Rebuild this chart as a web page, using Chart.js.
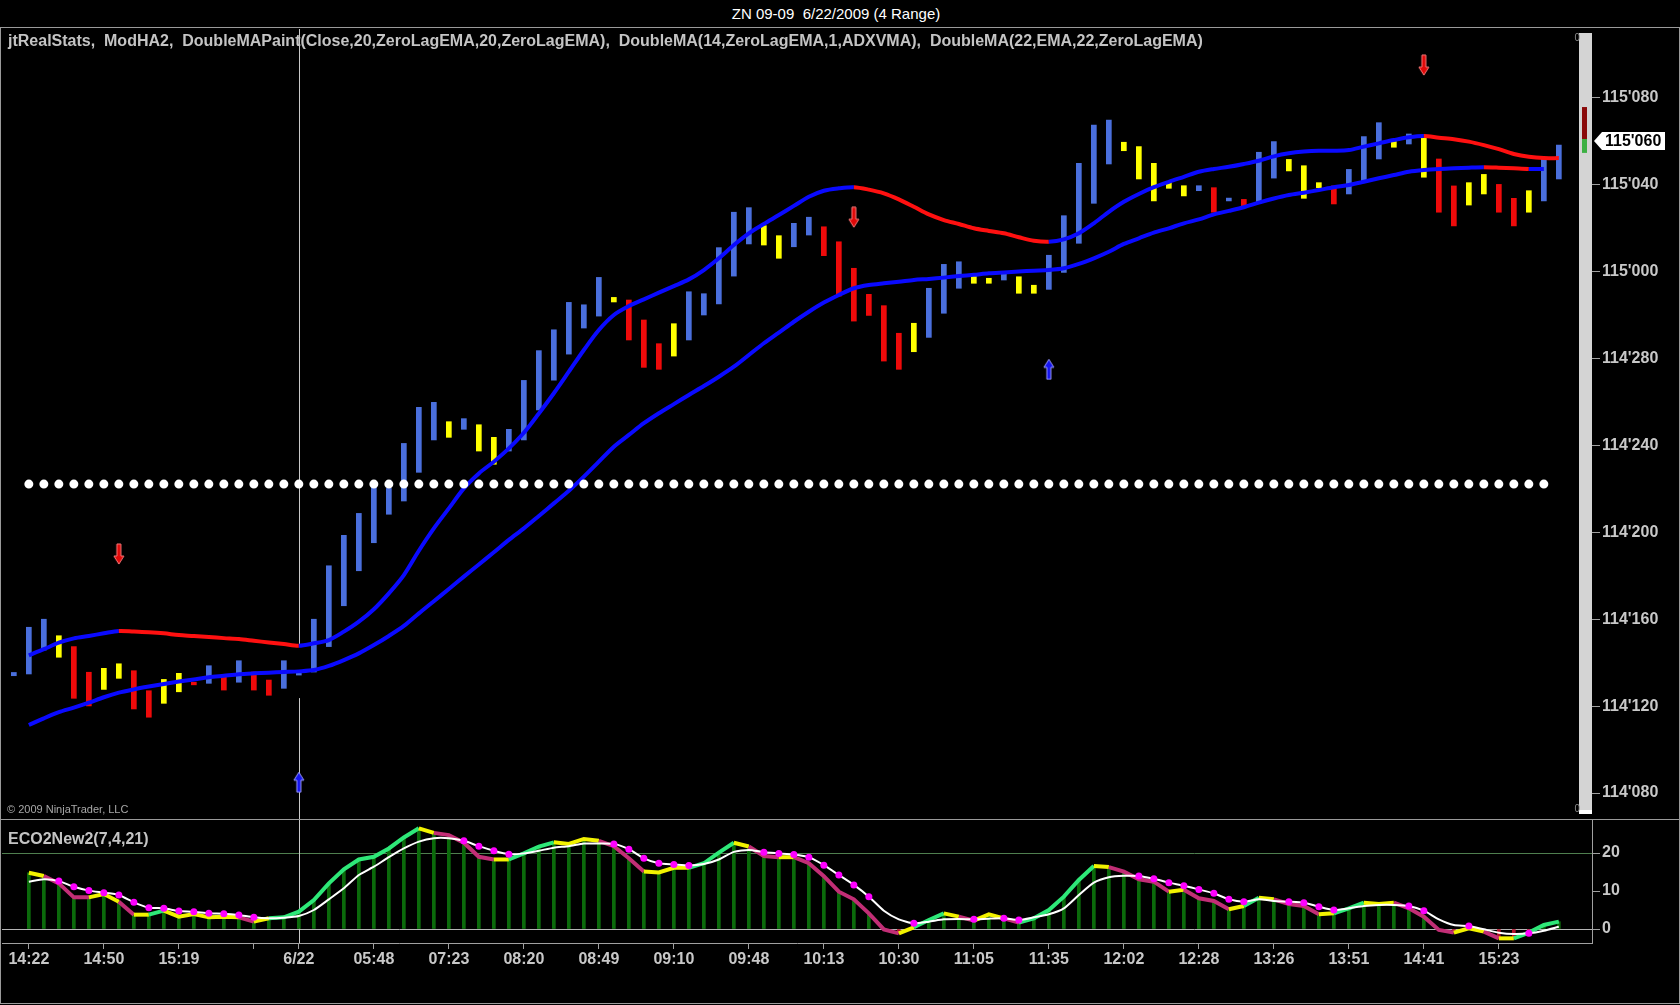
<!DOCTYPE html>
<html>
<head>
<meta charset="utf-8">
<script src="https://cdn.jsdelivr.net/npm/chart.js@4.4.1/dist/chart.umd.min.js"></script>
<style>
html, body { margin: 0; background: #000; width: 1680px; height: 1005px; overflow: hidden; font-family: "Liberation Sans", Arial, sans-serif; }
.abs { position: absolute; }
.rule { background: #9a9a9a; }
.txt { white-space: pre; z-index: 5; }
#title { left: 0; width: 1672px; top: 5px; text-align: center; color: #fff; font-size: 15px; }
.legend { color: #c4c4c4; font-size: 16px; font-weight: bold; }
#copy { left: 7px; top: 803px; color: #a8a8a8; font-size: 11px; }
</style>
</head>
<body>
<div id="title" class="abs txt">ZN 09-09  6/22/2009 (4 Range)</div>
<div class="abs rule" style="left:0;top:27px;width:1680px;height:1px"></div>
<div class="abs rule" style="left:0;top:27px;width:1px;height:977px"></div>
<div class="abs rule" style="left:1679px;top:27px;width:1px;height:977px"></div>
<div class="abs rule" style="left:0;top:1003px;width:1680px;height:1px"></div>
<div class="abs rule" style="left:0;top:819px;width:1680px;height:1px"></div>
<canvas id="main" class="abs" width="1680" height="791" style="left:0;top:28px"></canvas>
<canvas id="eco" class="abs" width="1680" height="183" style="left:0;top:820px"></canvas>
<div class="abs txt legend" style="left:8px;top:32px">jtRealStats,  ModHA2,  DoubleMAPaint(Close,20,ZeroLagEMA,20,ZeroLagEMA),  DoubleMA(14,ZeroLagEMA,1,ADXVMA),  DoubleMA(22,EMA,22,ZeroLagEMA)</div>
<div id="copy" class="abs txt">© 2009 NinjaTrader, LLC</div>
<div class="abs txt legend" style="left:8px;top:830px">ECO2New2(7,4,21)</div>
<script>
const $ = (id) => document.getElementById(id);

// price axis counts 32nds above 114'000
const BASE = 114;
const firstBar = -1;

const barLo = [
  13.40,
  13.48, 14.58, 14.25, 12.36, 12.01, 12.77, 13.28, 11.87, 11.49, 12.13,
  12.66, 12.98, 13.05, 12.74, 13.10, 12.74, 12.50, 12.82, 13.43, 13.57,
  14.74, 16.62, 18.23, 19.52, 20.83, 21.44, 22.76, 24.25, 24.37, 24.74,
  23.74, 23.13, 23.74, 24.25, 25.63, 27.00, 28.20, 29.40, 29.95, 30.60,
  28.85, 27.59, 27.50, 28.11, 28.85, 30.00, 30.51, 31.79, 33.27, 33.22,
  32.61, 33.14, 33.68, 32.73, 30.87, 29.72, 29.98, 27.88, 27.50, 28.31,
  28.97, 30.08, 31.23, 31.46, 31.46, 31.61, 31.00, 31.00, 31.18, 31.96,
  33.30, 35.14, 36.95, 37.56, 36.26, 35.25, 35.83, 35.48, 35.72, 34.73,
  35.25, 34.96, 35.14, 36.30, 36.63, 35.37, 35.86, 35.11, 35.57, 36.17,
  37.18, 37.72, 37.87, 36.34, 34.73, 34.10, 35.06, 35.57, 34.73, 34.10,
  34.73, 35.25, 36.26
];
const barHi = [
  13.55,
  15.63, 16.00, 15.24, 14.74, 13.56, 13.74, 13.95, 13.63, 12.71, 13.23,
  13.51, 13.10, 13.86, 13.45, 14.09, 13.57, 13.20, 14.09, 13.57, 16.00,
  18.46, 19.86, 20.87, 22.13, 22.02, 24.09, 25.75, 25.98, 25.09, 25.23,
  24.95, 24.37, 24.74, 26.99, 28.36, 29.32, 30.58, 30.47, 31.73, 30.81,
  30.69, 29.77, 28.68, 29.60, 31.07, 30.98, 33.10, 34.73, 34.94, 34.11,
  33.65, 34.22, 34.50, 34.06, 33.37, 32.15, 30.95, 30.43, 29.16, 29.62,
  31.23, 32.33, 32.45, 31.87, 31.69, 31.96, 31.76, 31.37, 32.75, 34.57,
  36.98, 38.74, 38.97, 37.95, 37.75, 36.98, 36.11, 35.95, 35.95, 35.86,
  35.38, 35.32, 37.49, 37.98, 37.16, 36.87, 36.09, 35.94, 36.70, 38.21,
  38.85, 37.98, 38.33, 38.13, 37.18, 35.94, 36.09, 36.47, 36.01, 35.37,
  35.72, 37.18, 37.82
];
// U = up, D = down, N = neutral
const barState = ('UUUNDDNNDDNNDUDUDDUU UUUUUUUUU NUNN UUUUUUU NDDDN UUUUU NNUU DDDDDD N UUU ' +
  'NNUNN UUUUU NNNNN UDUD UU NNN D UUU NUN DD NN DD N UU').replace(/ /g, '').split('');

const upperMA = [
  14.34, 14.62, 14.92, 15.12, 15.23, 15.35, 15.46, 15.43, 15.40, 15.35,
  15.27, 15.23, 15.18, 15.13, 15.09, 15.01, 14.93, 14.86, 14.78, 14.89,
  15.04, 15.43, 15.89, 16.46, 17.19, 18.03, 19.15, 20.18, 21.10, 22.02,
  22.71, 23.25, 23.86, 24.58, 25.47, 26.40, 27.39, 28.39, 29.31, 30.00,
  30.41, 30.72, 31.03, 31.33, 31.64, 32.07, 32.61, 33.22, 33.76, 34.19,
  34.60, 35.02, 35.44, 35.72, 35.83, 35.88, 35.77, 35.60, 35.32, 34.98,
  34.63, 34.37, 34.19, 33.99, 33.87, 33.76, 33.58, 33.42, 33.37, 33.48,
  33.76, 34.22, 34.75, 35.21, 35.57, 35.88, 36.13, 36.36, 36.59, 36.72,
  36.82, 36.95, 37.10, 37.30, 37.44, 37.52, 37.56, 37.56, 37.59, 37.75,
  37.90, 38.05, 38.18, 38.24, 38.16, 38.09, 37.98, 37.82, 37.63, 37.41,
  37.28, 37.22, 37.22
];
const upperRed = [[6, 18], [55, 68], [93, 102]];

const lowerMA = [
  11.13, 11.44, 11.72, 11.93, 12.16, 12.41, 12.62, 12.77, 12.90, 13.02,
  13.13, 13.23, 13.33, 13.40, 13.47, 13.51, 13.54, 13.57, 13.60, 13.66,
  13.85, 14.12, 14.43, 14.81, 15.23, 15.69, 16.27, 16.83, 17.39, 17.96,
  18.52, 19.08, 19.65, 20.18, 20.75, 21.33, 21.91, 22.56, 23.25, 23.94,
  24.48, 25.02, 25.48, 25.90, 26.32, 26.73, 27.16, 27.62, 28.16, 28.70,
  29.19, 29.69, 30.15, 30.57, 30.92, 31.23, 31.38, 31.46, 31.53, 31.61,
  31.66, 31.72, 31.79, 31.85, 31.92, 31.96, 32.00, 32.04, 32.07, 32.15,
  32.35, 32.61, 32.91, 33.27, 33.53, 33.79, 33.99, 34.22, 34.40, 34.63,
  34.79, 34.96, 35.17, 35.36, 35.52, 35.63, 35.75, 35.88, 35.98, 36.13,
  36.29, 36.44, 36.59, 36.67, 36.72, 36.75, 36.78, 36.80, 36.78, 36.75,
  36.72, 36.72
];
const lowerRed = [[97, 100]];

const levelPrice = 22.22;
const levelSpan = [0, 101.05];

const sellIdx = [6, 55, 93];
const sellAt = [19.0, 34.5, 41.5];
const buyIdx = [18, 68];
const buyAt = [8.5, 27.5];

const lastPrice = 38;
const meterRed = [38.10, 39.57];
const meterGreen = [37.46, 38.10];

const priceTicks = [8, 12, 16, 20, 24, 28, 32, 36, 40];

const ecoMain = [
  14.8, 13.95, 12.0, 8.33, 8.33, 9.21, 7.19, 3.77, 3.77, 4.82,
  3.25, 3.95, 3.07, 3.25, 3.07, 1.93, 2.81, 3.07, 4.56, 7.63,
  12.0, 15.7, 18.3, 19.0, 21.2, 24.1, 26.5, 25.3, 24.7, 22.7,
  19.0, 18.3, 18.3, 19.9, 21.7, 22.8, 22.4, 23.7, 23.2, 21.8,
  18.6, 15.1, 14.9, 16.1, 16.1, 17.3, 20.1, 22.7, 21.7, 19.2,
  18.9, 18.9, 17.3, 13.9, 9.82, 7.81, 4.12, -0.1, -1.14, 0.44,
  2.37, 4.12, 3.25, 2.19, 3.86, 2.81, 1.67, 2.81, 5.0, 8.51,
  12.9, 16.6, 16.3, 15.1, 13.07, 12.45, 9.82, 10.3, 8.07, 7.37,
  5.18, 6.05, 8.25, 7.81, 6.58, 6.05, 3.86, 4.12, 5.44, 6.93,
  6.58, 6.93, 5.44, 3.25, -0.26, -0.96, 0.18, -0.7, -2.46, -2.46,
  -0.96, 1.05, 1.93
];
const ecoSignal = [
  12.45, 13.07, 12.6, 11.1, 10.1, 9.56, 8.95, 7.02, 5.61, 5.44,
  4.74, 4.56, 4.12, 4.04, 3.68, 3.07, 2.81, 2.98, 3.42, 5.0,
  7.81, 10.7, 14.2, 16.4, 18.9, 21.2, 23.0, 23.9, 23.9, 23.2,
  21.8, 20.6, 19.7, 19.9, 20.6, 21.4, 21.8, 22.5, 22.5, 22.4,
  21.0, 18.6, 17.3, 17.0, 16.7, 17.1, 18.3, 20.3, 20.8, 20.2,
  19.9, 19.6, 18.9, 16.8, 14.2, 11.6, 8.51, 4.82, 2.54, 1.49,
  1.93, 2.54, 2.63, 2.54, 2.72, 2.81, 2.37, 3.07, 3.86, 5.44,
  8.95, 12.2, 13.6, 14.0, 13.95, 13.2, 12.2, 11.4, 10.4, 9.39,
  7.81, 7.19, 7.81, 7.37, 7.19, 6.93, 5.88, 5.0, 5.44, 6.05,
  6.32, 6.32, 6.05, 4.82, 2.54, 1.05, 0.79, -0.09, -0.96, -1.32,
  -1.14, -0.44, 0.61
];
// G = rising, Y = turning, M = falling (colour of the segment ending at each bar)
const ecoState = ('YYMMMYYMYGYYYYYMYGG GGGGGGGG YMMMM YGGG YYY MMM YYY GGG YMMY MMMMMMM ' +
  'YGGYMYYM GGGGG Y MMMM Y MMM YGY MMM YGGYY MMMM YYMY GGG').replace(/ /g, '').split('');
const ecoDots = [2, 3, 4, 5, 6, 7, 8, 9, 10, 11, 12, 13, 14, 15, 29, 30, 31, 32,
  39, 40, 41, 42, 43, 44, 49, 50, 51, 52, 53, 54, 55, 56, 59, 63, 65, 66,
  74, 75, 76, 77, 78, 79, 80, 81, 84, 85, 86, 87, 92, 93, 96, 100];
const ecoTicks = [0, 10, 20];

const timeIdx = [0, 5, 10, 15, 18, 23, 28, 33, 38, 43, 48, 53, 58, 63, 68, 73, 78, 83, 88, 93, 98];
const timeLabels = ['14:22', '14:50', '15:19', '', '6/22', '05:48', '07:23', '08:20', '08:49', '09:10',
  '09:48', '10:13', '10:30', '11:05', '11:35', '12:02', '12:28', '13:26', '13:51', '14:41', '15:23'];
const cursorIdx = 18;
const cursorGap = [12.37, 14.72];

const X_MIN = -1.79, X_MAX = 104.21;
const COLORS = {
  up: '#4a6fdc', down: '#ee0a0a', flat: '#ffff00',
  ma: '#0a0aff', maRed: '#ff1010',
  grey: '#a0a0a0', label: '#c8c8c8',
  green: '#2ee878', yellow: '#f2f200', pink: '#c22e76',
  hist: '#0b6a0b', histNeg: '#b0102a'
};
const FONT = { family: '"Liberation Sans", Arial, sans-serif', size: 16, weight: 'bold' };

Chart.defaults.font.family = FONT.family;
Chart.defaults.animation = false;

const fmtPrice = (v) => {
  const w = Math.floor(v / 32);
  const frac = Math.round((v - 32 * w) * 10);
  return `${BASE + w}'${String(frac).padStart(3, '0')}`;
};
const inRuns = (runs, a, b) => runs.some(([s, e]) => a >= s && b <= e);
// keep the plot area exactly where the layout puts it (no room reserved for edge labels)
const noPad = (s) => { s.paddingTop = 0; s.paddingBottom = 0; s.paddingLeft = 0; s.paddingRight = 0; };

function makeArrow(up, fill, edge) {
  const c = document.createElement('canvas');
  c.width = 12; c.height = 22;
  const g = c.getContext('2d');
  if (up) { g.translate(0, 22); g.scale(1, -1); }
  g.beginPath();
  g.moveTo(4, 1); g.lineTo(8, 1); g.lineTo(8, 13); g.lineTo(11, 13);
  g.lineTo(6, 21); g.lineTo(1, 13); g.lineTo(4, 13); g.closePath();
  g.fillStyle = fill; g.fill();
  g.strokeStyle = edge; g.lineWidth = 1; g.stroke();
  return c;
}

const bars = barLo.map((lo, k) => ({ x: firstBar + k, y: [lo, barHi[k]] }));
const barColor = { U: COLORS.up, D: COLORS.down, N: COLORS.flat };

const mainDeco = {
  id: 'mainDeco',
  beforeDatasetsDraw(chart) {
    const { ctx, chartArea: a, scales: { x, y } } = chart;
    ctx.save();
    ctx.fillStyle = '#d4d4d4';
    ctx.fillRect(a.right - 13, a.top + 4, 13, a.bottom - a.top - 13);
    ctx.fillStyle = '#ffffff';
    ctx.fillRect(a.right - 13, a.bottom - 9, 13, 4);
    ctx.fillStyle = '#8a0a0a';
    ctx.fillRect(a.right - 10, y.getPixelForValue(meterRed[1]), 5, y.getPixelForValue(meterRed[0]) - y.getPixelForValue(meterRed[1]));
    ctx.fillStyle = '#3cb043';
    ctx.fillRect(a.right - 10, y.getPixelForValue(meterGreen[1]), 5, y.getPixelForValue(meterGreen[0]) - y.getPixelForValue(meterGreen[1]));
    ctx.fillStyle = '#8c8c8c';
    ctx.font = '10px ' + FONT.family;
    ctx.textAlign = 'right';
    ctx.textBaseline = 'middle';
    ctx.fillText('0', a.right - 12, a.top + 9);
    ctx.fillText('0', a.right - 12, a.bottom - 10);
    const cx = Math.round(x.getPixelForValue(cursorIdx)) + 0.5;
    ctx.strokeStyle = '#c8c8c8';
    ctx.lineWidth = 1;
    ctx.beginPath();
    ctx.moveTo(cx, a.top);
    ctx.lineTo(cx, y.getPixelForValue(cursorGap[1]));
    ctx.moveTo(cx, y.getPixelForValue(cursorGap[0]));
    ctx.lineTo(cx, a.bottom);
    ctx.stroke();
    ctx.restore();
  },
  afterDraw(chart) {
    const { ctx, chartArea: a, scales: { y } } = chart;
    const py = Math.round(y.getPixelForValue(lastPrice));
    ctx.save();
    ctx.fillStyle = '#ffffff';
    ctx.beginPath();
    ctx.moveTo(a.right + 2, py);
    ctx.lineTo(a.right + 10, py - 9);
    ctx.lineTo(a.right + 73, py - 9);
    ctx.lineTo(a.right + 73, py + 9);
    ctx.lineTo(a.right + 10, py + 9);
    ctx.closePath();
    ctx.fill();
    ctx.fillStyle = '#000';
    ctx.font = `bold 16px ${FONT.family}`;
    ctx.textBaseline = 'middle';
    ctx.fillText(fmtPrice(lastPrice), a.right + 13, py + 1);
    ctx.restore();
  }
};

new Chart($('main'), {
  type: 'bar',
  data: {
    datasets: [
      {
        type: 'scatter', label: 'Sell', order: 0,
        data: sellIdx.map((i, k) => ({ x: i, y: sellAt[k] })),
        pointStyle: makeArrow(false, '#e00808', '#ff7a7a')
      },
      {
        type: 'scatter', label: 'Buy', order: 0,
        data: buyIdx.map((i, k) => ({ x: i, y: buyAt[k] })),
        pointStyle: makeArrow(true, '#1414f0', '#9a9aff')
      },
      {
        type: 'line', label: 'Level', order: 1,
        data: levelSpan.map(x => ({ x, y: levelPrice })),
        borderColor: '#ffffff', borderWidth: 9, borderDash: [0, 15], borderCapStyle: 'round',
        pointRadius: 0
      },
      {
        type: 'line', label: 'DoubleMAPaint', order: 2,
        data: upperMA.map((v, i) => ({ x: i, y: v })),
        borderWidth: 4, pointRadius: 0, tension: 0.3, borderColor: COLORS.ma,
        segment: { borderColor: c => inRuns(upperRed, c.p0DataIndex, c.p1DataIndex) ? COLORS.maRed : COLORS.ma }
      },
      {
        type: 'line', label: 'DoubleMA', order: 2,
        data: lowerMA.map((v, i) => ({ x: i, y: v })),
        borderWidth: 4, pointRadius: 0, tension: 0.3, borderColor: COLORS.ma,
        segment: { borderColor: c => inRuns(lowerRed, c.p0DataIndex, c.p1DataIndex) ? COLORS.maRed : COLORS.ma }
      },
      {
        type: 'bar', label: 'ModHA2', order: 3, grouped: false,
        data: bars, barThickness: 5, borderWidth: 0, borderSkipped: false,
        backgroundColor: c => barColor[barState[c.dataIndex]]
      }
    ]
  },
  options: {
    responsive: false,
    devicePixelRatio: 1,
    layout: { autoPadding: false, padding: { left: 2, top: 1, right: 0, bottom: 0 } },
    plugins: { legend: { display: false }, tooltip: { enabled: false } },
    scales: {
      x: { type: 'linear', min: X_MIN, max: X_MAX, offset: false, display: false, afterFit: noPad },
      y: {
        position: 'right',
        min: 40 - (819 - 97.7) / 21.73,
        max: 40 + (97.7 - 29) / 21.73,
        afterFit: s => { s.width = 88; noPad(s); },
        afterBuildTicks: s => { s.ticks = priceTicks.map(value => ({ value })); },
        border: { display: false },
        grid: { drawOnChartArea: false, drawTicks: true, tickLength: 8, tickColor: COLORS.grey },
        ticks: { color: COLORS.label, font: FONT, padding: 2, callback: v => fmtPrice(v) }
      }
    }
  },
  plugins: [mainDeco]
});

const ecoDeco = {
  id: 'ecoDeco',
  beforeDatasetsDraw(chart) {
    const { ctx, chartArea: a, scales: { x } } = chart;
    const cx = Math.round(x.getPixelForValue(cursorIdx)) + 0.5;
    ctx.save();
    ctx.strokeStyle = '#c8c8c8';
    ctx.lineWidth = 1;
    ctx.beginPath();
    ctx.moveTo(cx, a.top);
    ctx.lineTo(cx, a.bottom);
    ctx.stroke();
    ctx.restore();
  }
};
const ecoColor = { G: COLORS.green, Y: COLORS.yellow, M: COLORS.pink };

new Chart($('eco'), {
  type: 'bar',
  data: {
    datasets: [
      {
        type: 'scatter', label: 'Dots', order: 0,
        data: ecoDots.map(i => ({ x: i, y: ecoSignal[i] })),
        pointRadius: 3.5, pointBackgroundColor: '#ff00ff', pointBorderWidth: 0
      },
      {
        type: 'line', label: 'Signal', order: 1,
        data: ecoSignal.map((v, i) => ({ x: i, y: v })),
        borderColor: '#ffffff', borderWidth: 2, pointRadius: 0, tension: 0.2
      },
      {
        type: 'line', label: 'ECO', order: 2,
        data: ecoMain.map((v, i) => ({ x: i, y: v })),
        borderWidth: 4, pointRadius: 0, borderColor: COLORS.green,
        segment: { borderColor: c => ecoColor[ecoState[c.p1DataIndex]] }
      },
      {
        type: 'bar', label: 'Histogram', order: 3, grouped: false,
        data: ecoMain.map((v, i) => ({ x: i, y: v })),
        barThickness: 3, borderWidth: 0,
        backgroundColor: c => (ecoMain[c.dataIndex] < 0 ? COLORS.histNeg : COLORS.hist)
      }
    ]
  },
  options: {
    responsive: false,
    devicePixelRatio: 1,
    layout: { autoPadding: false, padding: { left: 2, top: 0, right: 0, bottom: 0 } },
    plugins: { legend: { display: false }, tooltip: { enabled: false } },
    scales: {
      x: {
        type: 'linear', min: X_MIN, max: X_MAX, offset: false,
        afterFit: s => { s.height = 60; noPad(s); },
        afterBuildTicks: s => { s.ticks = timeIdx.map(value => ({ value })); },
        border: { display: true, color: COLORS.grey },
        grid: { offset: false, drawOnChartArea: false, drawTicks: true, tickLength: 6, tickColor: COLORS.grey },
        ticks: { color: COLORS.label, font: FONT, padding: 1, maxRotation: 0, autoSkip: false,
          callback: (v, i) => timeLabels[i] }
      },
      y: {
        position: 'right',
        min: (929 - 943) / 3.8,
        max: (929 - 820) / 3.8,
        afterFit: s => { s.width = 88; noPad(s); },
        afterBuildTicks: s => { s.ticks = ecoTicks.map(value => ({ value })); },
        border: { display: true, color: COLORS.grey },
        grid: {
          drawOnChartArea: true, drawTicks: true, tickLength: 8, tickColor: COLORS.grey,
          color: c => c.tick && c.tick.value === 20 ? '#4f7f4f' : (c.tick && c.tick.value === 0 ? '#b4b4b4' : 'transparent')
        },
        ticks: { color: COLORS.label, font: FONT, padding: 2 }
      }
    }
  },
  plugins: [ecoDeco]
});
</script>
</body>
</html>
